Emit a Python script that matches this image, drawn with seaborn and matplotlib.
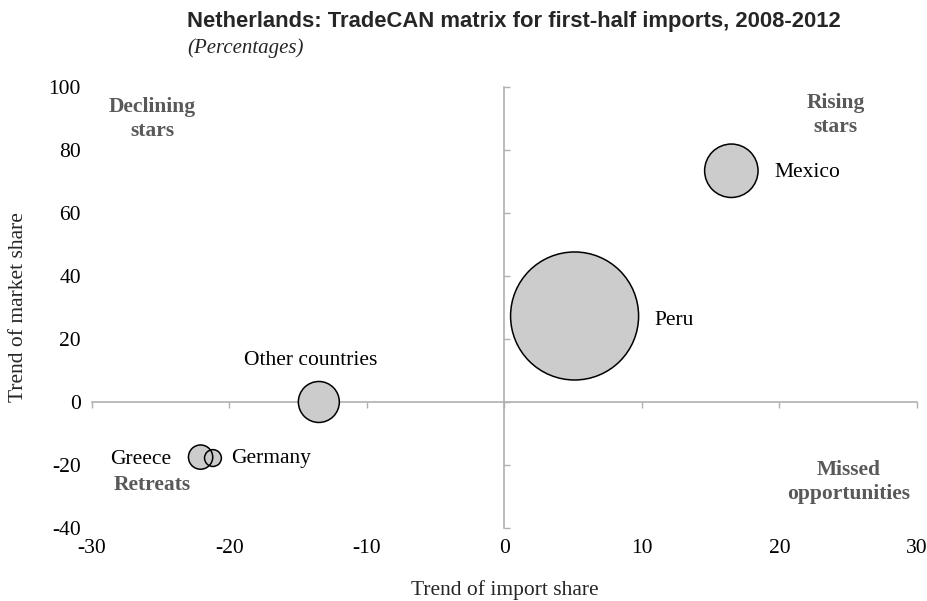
import matplotlib
matplotlib.use("Agg")
import matplotlib.pyplot as plt
import pandas as pd
import seaborn as sns

# ---------------------------------------------------------------------------
# Data
# ---------------------------------------------------------------------------
countries = ["Peru", "Mexico", "Other countries", "Greece", "Germany"]
import_trend = [5.1, 16.5, -13.5, -22.1, -21.2]      # trend of import share
market_trend = [27.3, 73.4, 0.0, -17.5, -17.8]        # trend of market share
share = [75.2, 13.1, 7.7, 2.7, 1.3]                   # bubble size (share of imports)

x_ticks = [-30, -20, -10, 0, 10, 20, 30]
y_ticks = [-40, -20, 0, 20, 40, 60, 80, 100]

SERIF = ["Liberation Serif", "DejaVu Serif"]
SANS = ["Liberation Sans", "DejaVu Sans"]
AXIS_GREY = "#b0b0b0"
QUAD_GREY = "#595959"
BUBBLE_SCALE = 113  # points^2 per unit of share
FS = 15.5

sns.set_theme(style="white")
plt.rcParams["font.family"] = SERIF
plt.rcParams["axes.unicode_minus"] = False

df = pd.DataFrame({"country": countries, "x": import_trend, "y": market_trend, "share": share})

fig = plt.figure(figsize=(9.28, 6.01), dpi=100)
ax = fig.add_axes([0.0991, 0.1215, 0.889, 0.7338])

size_map = {v: v * BUBBLE_SCALE for v in share}
# filled bubbles first, then outlines on top so overlapping rims stay visible
sns.scatterplot(data=df, x="x", y="y", size="share", sizes=size_map, legend=False,
                color="#cccccc", edgecolor="none", linewidth=0, alpha=1, ax=ax, zorder=3)
sns.scatterplot(data=df, x="x", y="y", size="share", sizes=size_map, legend=False,
                facecolor="none", edgecolor="black", linewidth=1.1, ax=ax, zorder=4)

ax.set_xlim(x_ticks[0], x_ticks[-1])
ax.set_ylim(y_ticks[0], y_ticks[-1])
ax.set_xticks(x_ticks)
ax.set_yticks(y_ticks)
ax.tick_params(length=0, labelsize=FS, pad=8, colors="black")
for s in ax.spines.values():
    s.set_visible(False)
ax.set_xlabel("Trend of import share", fontsize=FS, labelpad=16)
ax.set_ylabel("Trend of market share", fontsize=FS, labelpad=15)

# axis lines crossing at the origin, with small ticks
y0 = (0 - y_ticks[0]) / (y_ticks[-1] - y_ticks[0])
x0 = (0 - x_ticks[0]) / (x_ticks[-1] - x_ticks[0])
secx = ax.secondary_xaxis(y0)
secx.set_xticks(x_ticks)
secx.tick_params(direction="out", length=4, width=1, color=AXIS_GREY, labelbottom=False, labeltop=False)
secy = ax.secondary_yaxis(x0)
secy.set_yticks(y_ticks)
secy.tick_params(direction="out", length=4, width=1, color=AXIS_GREY, labelleft=False, labelright=False)
for sec in (secx, secy):
    for s in sec.spines.values():
        s.set_color(AXIS_GREY)
        s.set_linewidth(1.2)

# point labels
lbl = dict(fontsize=FS, va="center", color="black")
ax.text(10.9, 26.0, "Peru", ha="left", **lbl)
ax.text(19.6, 72.7, "Mexico", ha="left", **lbl)
ax.text(-14.1, 13.3, "Other countries", ha="center", **lbl)
ax.text(-24.2, -18.4, "Greece", ha="right", **lbl)
ax.text(-19.9, -18.1, "Germany", ha="left", **lbl)

# quadrant labels
quad = dict(fontsize=FS, fontweight="bold", color=QUAD_GREY, ha="center", va="center", linespacing=1.25)
ax.text(-25.6, 89.8, "Declining\nstars", **quad)
ax.text(24.1, 91.2, "Rising\nstars", **quad)
ax.text(25.0, -25.3, "Missed\nopportunities", **quad)
ax.text(-25.6, -26.3, "Retreats", **quad)

fig.text(0.2015, 0.965, "Netherlands: TradeCAN matrix for first-half imports, 2008-2012",
         family=SANS, fontweight="bold", fontsize=15.8, ha="left", va="center")
fig.text(0.2015, 0.92, "(Percentages)", family=SERIF, fontstyle="italic", fontsize=15,
         ha="left", va="center")

fig.savefig("out.png", dpi=100)
